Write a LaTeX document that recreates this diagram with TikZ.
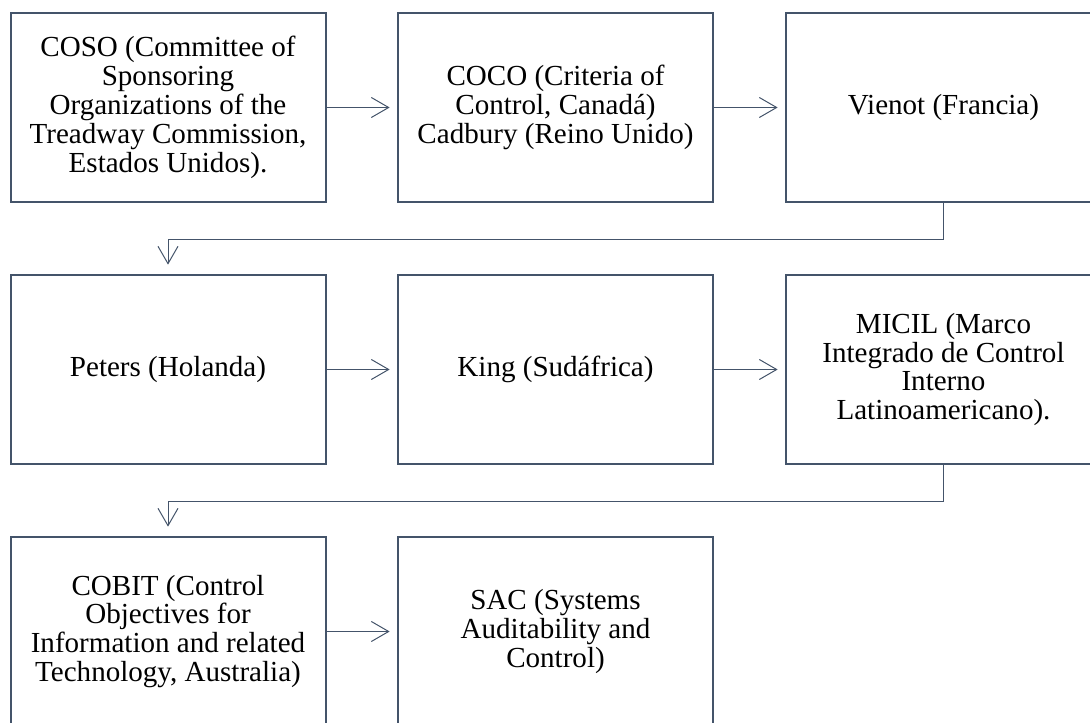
\documentclass[tikz,border=0pt]{standalone}
\usepackage{fontspec}
\setmainfont{Liberation Serif}
\usetikzlibrary{arrows.meta}
\definecolor{azulgris}{HTML}{44546A}
\begin{document}
\begin{tikzpicture}[x=0.75pt,y=-0.75pt,
  caja/.style={draw=azulgris,line width=1.5pt,minimum width=236.25pt,minimum height=141.75pt,inner sep=0pt,align=center,font=\fontsize{21.8}{21.7}\selectfont},
  flecha/.style={draw=azulgris,line width=0.75pt,-{Straight Barb[length=13pt,width=15pt]},shorten >=5.5pt}]
\clip (0,0) rectangle (1090,723);
% fila 1
\node[caja] (coso) at (168,107.5) {COSO (Committee of\\Sponsoring\\Organizations of the\\Treadway Commission,\\Estados Unidos).};
\node[caja] (coco) at (555.5,107.5) {COCO (Criteria of\\Control, Canadá)\\Cadbury (Reino Unido)};
\node[caja] (vienot) at (943.5,107.5) {Vienot (Francia)};
% fila 2
\node[caja] (peters) at (168,369.5) {Peters (Holanda)};
\node[caja] (king) at (555.5,369.5) {King (Sudáfrica)};
\node[caja] (micil) at (943.5,369.5) {MICIL (Marco\\Integrado de Control\\Interno\\Latinoamericano).};
% fila 3
\node[caja] (cobit) at (168,631.5) {COBIT (Control\\Objectives for\\Information and related\\Technology, Australia)};
\node[caja] (sac) at (555.5,631.5) {SAC (Systems\\Auditability and\\Control)};
% conexiones
\foreach \a/\b in {coso/coco,coco/vienot,peters/king,king/micil,cobit/sac}
  \draw[flecha] (\a) -- (\b);
\draw[flecha,shorten >=7pt] (vienot.south) -- ++(0,37) -| (peters.north);
\draw[flecha,shorten >=7pt] (micil.south) -- ++(0,37) -| (cobit.north);
\end{tikzpicture}
\end{document}
